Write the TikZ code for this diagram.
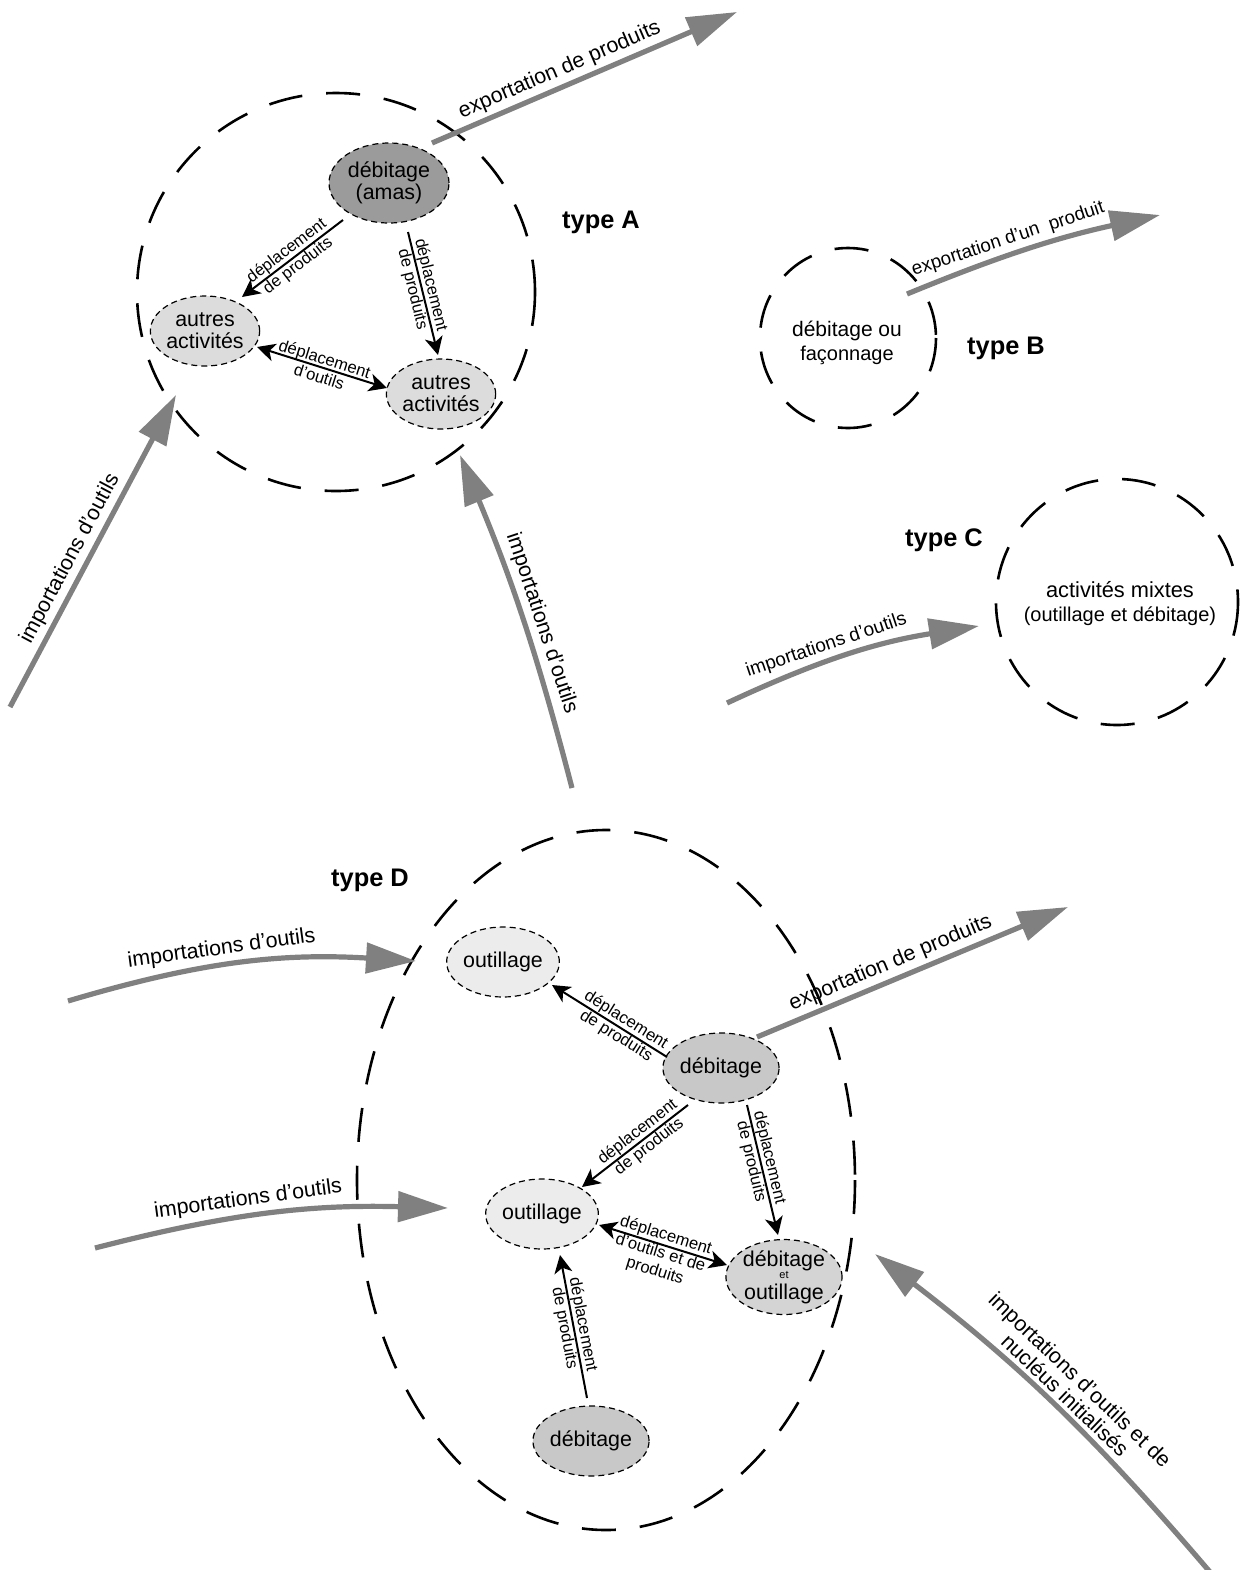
\documentclass[tikz,border=0pt]{standalone}
\usepackage{fontspec}
\setmainfont{Liberation Sans}
\usetikzlibrary{arrows.meta,shapes.geometric}
\definecolor{darkfill}{RGB}{155,155,155}
\definecolor{midfill}{RGB}{200,200,200}
\definecolor{autfill}{RGB}{220,220,220}
\definecolor{dnofill}{RGB}{212,212,212}
\definecolor{outfill}{RGB}{236,236,236}
\definecolor{arrowgray}{RGB}{128,128,128}
\newcommand\mainf{\fontsize{10.7}{10.9}\selectfont}
\newcommand\smallf{\fontsize{8.3}{9.3}\selectfont}
\newcommand\typef{\fontsize{12.7}{14}\selectfont\bfseries}
\newcommand\etf{\fontsize{5.5}{5.5}\selectfont}
\begin{document}
\begin{tikzpicture}[x=0.5pt,y=-0.5pt,
  zone/.style={draw, line width=1.3pt, dash pattern=on 17pt off 12pt},
  act/.style={ellipse, draw, line width=0.6pt, dash pattern=on 3pt off 2pt, inner sep=0pt, align=center, font=\mainf},
  sarrow/.style={line width=1pt, -{Stealth[length=9pt,width=9pt,inset=2.5pt]}},
  darrow/.style={line width=1pt, {Stealth[length=9pt,width=9pt,inset=2.5pt]}-{Stealth[length=9pt,width=9pt,inset=2.5pt]}},
  slab/.style={sloped, align=center, font=\smallf, inner sep=0pt},
  bigarrow/.style={draw=arrowgray, line width=2.6pt, -{Triangle[length=25pt,width=15pt]}},
  blab/.style={sloped, above, font=\mainf, inner sep=2pt, align=center},
  typelab/.style={font=\typef}
]
\useasboundingbox (0,0) rectangle (1239,1570);

% ---------- type A ----------
\draw[zone] (336,292) ellipse[x radius=199, y radius=199];
\node[act, fill=darkfill, minimum width=60pt, minimum height=40pt] (debA) at (389,183) {débitage\\(amas)};
\node[act, fill=autfill, minimum width=50pt, minimum height=35pt] (autA1) at (205,331) {autres\\activités};
\node[act, fill=autfill, minimum width=50pt, minimum height=35pt] (autA2) at (441,394) {autres\\activités};
\draw[sarrow] ([shift={(-46,37)}]debA.center) -- node[slab, midway] {déplacement\\de produits} ([shift={(37,-34)}]autA1.center);
\draw[sarrow] ([shift={(19,49)}]debA.center) -- node[slab, pos=0.45] {déplacement\\de produits} ([shift={(-3,-39)}]autA2.center);
\draw[darrow] ([shift={(52,16)}]autA1.center) -- node[slab, midway] {déplacement\\d’outils} ([shift={(-54,-6)}]autA2.center);
\node[typelab] (typeA) at (601,222) {type A};

\coordinate (expAs) at (432,143);
\coordinate (expAe) at (737,12);
\draw[bigarrow] (expAs) -- node[blab, pos=0.44] {exportation de produits} (expAe);
\coordinate (impA1s) at (10,707);
\coordinate (impA1e) at (176,395);
\draw[bigarrow] (impA1s) -- node[blab, pos=0.45] {importations d’outils} (impA1e);
\coordinate (impA2s) at (572,788);
\coordinate (impA2e) at (460,455);
\draw[bigarrow] (impA2s) to[bend right=4] node[blab, pos=0.47] {importations d’outils} (impA2e);

% ---------- type B ----------
\draw[zone] (848,338) ellipse[x radius=88, y radius=90];
\node[align=center, inner sep=0pt] (txtB) at (847,343) {\fontsize{10.5}{12.5}\selectfont débitage ou\\façonnage};
\node[typelab] (typeB) at (1006,348) {type B};
\coordinate (expBs) at (907,294);
\coordinate (expBe) at (1160,215);
\draw[bigarrow] (expBs) to[bend left=5] node[blab, pos=0.42, font=\fontsize{9.4}{10}\selectfont] {exportation d’un\ \ produit} (expBe);

% ---------- type C ----------
\draw[zone] (1117,602) ellipse[x radius=121, y radius=123];
\node[align=center, inner sep=0pt] (txtC) at (1120,604) {\fontsize{10.9}{11.8}\selectfont activités mixtes\\(outillage et débitage)};
\node[typelab] (typeC) at (944,540) {type C};
\coordinate (impCs) at (727,703);
\coordinate (impCe) at (979,626);
\draw[bigarrow] (impCs) to[bend left=8] node[blab, pos=0.42, font=\fontsize{9.5}{10}\selectfont] {importations d’outils} (impCe);

% ---------- type D ----------
\draw[zone] (606,1180) ellipse[x radius=249, y radius=350];
\node[typelab] (typeD) at (370,880) {type D};
\node[act, fill=outfill, minimum width=49pt, minimum height=35pt] (outD1) at (503,962) {outillage};
\node[act, fill=midfill, minimum width=52pt, minimum height=35pt] (debD1) at (721,1068) {débitage};
\node[act, fill=outfill, minimum width=50pt, minimum height=35pt] (outD2) at (542,1214) {outillage};
\node[act, fill=dnofill, minimum width=51pt, minimum height=35pt] (dnoD) at (784,1277) {débitage\\[-4.8pt]{\etf et}\\[-0.6pt]outillage};
\node[act, fill=midfill, minimum width=51pt, minimum height=35pt] (debD2) at (591,1441) {débitage};

\draw[sarrow] ([shift={(-54,-11)}]debD1.center) -- node[slab, pos=0.4] {déplacement\\de produits} ([shift={(49,23)}]outD1.center);
\draw[sarrow] ([shift={(-33,37)}]debD1.center) -- node[slab, pos=0.42] {déplacement\\de produits} ([shift={(40,-27)}]outD2.center);
\draw[sarrow] ([shift={(26,37)}]debD1.center) -- node[slab, pos=0.42] {déplacement\\de produits} ([shift={(-6,-42)}]dnoD.center);
\draw[darrow] ([shift={(57,11)}]outD2.center) -- node[slab, midway, yshift=-4.5pt] {déplacement\\d’outils et de\\produits} ([shift={(-57,-12)}]dnoD.center);
\draw[sarrow] ([shift={(-4,-43)}]debD2.center) -- node[slab, midway] {déplacement\\de produits} ([shift={(18,41)}]outD2.center);

\coordinate (expDs) at (757,1037);
\coordinate (expDe) at (1068,907);
\draw[bigarrow] (expDs) -- node[blab, pos=0.45] {exportation de produits} (expDe);
\coordinate (impD1s) at (68,1001);
\coordinate (impD1e) at (416,961);
\draw[bigarrow] (impD1s) to[bend left=10] node[blab, pos=0.45] {importations d’outils} (impD1e);
\coordinate (impD2s) at (95,1248);
\coordinate (impD2e) at (448,1208);
\draw[bigarrow] (impD2s) to[bend left=8] node[blab, pos=0.44] {importations d’outils} (impD2e);
\coordinate (impD3s) at (1210,1572);
\coordinate (impD3e) at (875,1254);
\draw[bigarrow] (impD3s) to[bend right=6] node[blab, pos=0.49] {importations d’outils et de\\nucléus initialisés} (impD3e);
\end{tikzpicture}
\end{document}
